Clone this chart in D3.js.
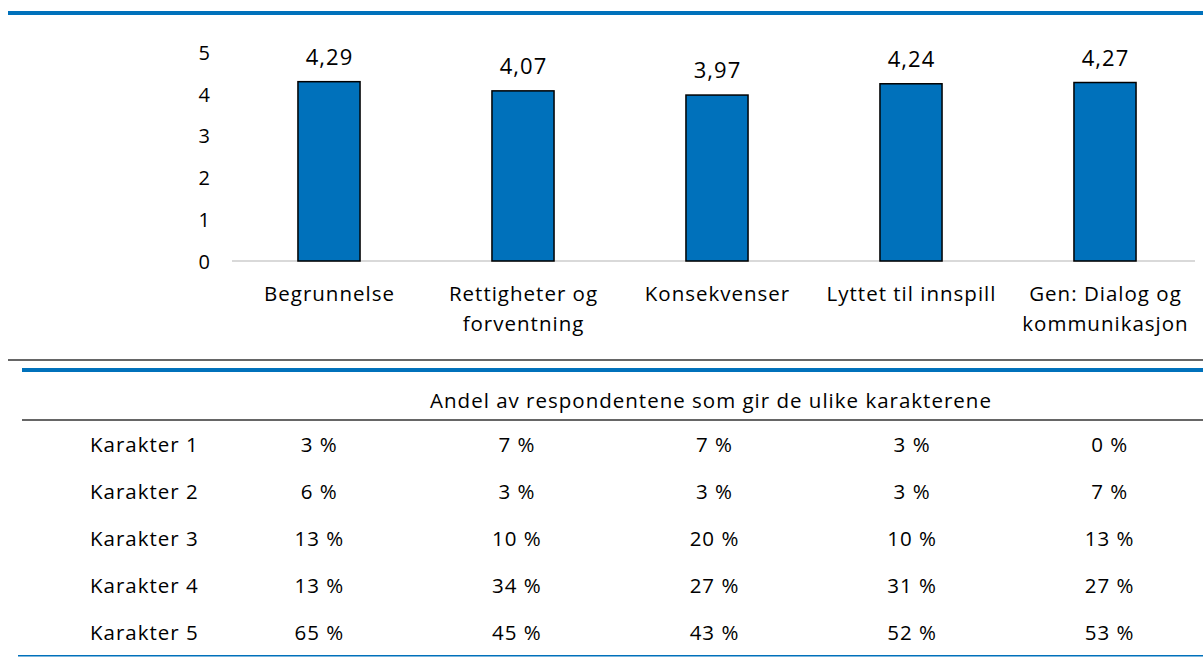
<!DOCTYPE html>
<html lang="no">
<head>
  <meta charset="UTF-8">
  <title>Karakterer</title>
  <style>
    * {
      margin: 0;
      padding: 0;
    }
    body {
      background: #fff;
    }
    text {
      font-family: "Open Sans", sans-serif;
      fill: #000;
    }
    .wide {
      letter-spacing: 1px;
    }
  </style>
</head>
<body>
  <script src="https://d3js.org/d3.v7.min.js"></script>
  <script>
    const categories = [
      ['Begrunnelse'],
      ['Rettigheter og', 'forventning'],
      ['Konsekvenser'],
      ['Lyttet til innspill'],
      ['Gen: Dialog og', 'kommunikasjon'],
    ]
    const averages = [4.29, 4.07, 3.97, 4.24, 4.27]
    const yTicks = [0, 1, 2, 3, 4, 5]

    const tableTitle = 'Andel av respondentene som gir de ulike karakterene'
    const gradeLabels = ['Karakter 1', 'Karakter 2', 'Karakter 3', 'Karakter 4', 'Karakter 5']
    const grade1 = [3, 7, 7, 3, 0]
    const grade2 = [6, 3, 3, 3, 7]
    const grade3 = [13, 10, 20, 10, 13]
    const grade4 = [13, 34, 27, 31, 27]
    const grade5 = [65, 45, 43, 52, 53]

    const width = 1203
    const height = 657
    const blue = '#0071bb'
    const fontSize = 20.5

    const no = d3.formatLocale({ decimal: ',', thousands: ' ', grouping: [3], currency: ['', ' kr'] })
    const fmt = no.format('.2f')

    const svg = d3.select('body')
      .append('svg')
      .attr('width', width)
      .attr('height', height)

    // top rule (title sits above the visible area)
    svg.append('rect')
      .attr('x', 8).attr('y', 11)
      .attr('width', width - 8).attr('height', 4)
      .attr('fill', blue)

    const keys = categories.map((c, i) => i)

    const xScale = d3.scaleBand()
      .domain(keys)
      .range([232, 1202])
      .paddingInner(0.68)
      .paddingOuter(0.34)

    const yScale = d3.scaleLinear()
      .domain([0, 5])
      .range([261, 52])

    // baseline
    svg.append('line')
      .attr('x1', 232).attr('x2', 1195)
      .attr('y1', yScale(0)).attr('y2', yScale(0))
      .attr('stroke', '#d9d9d9')
      .attr('stroke-width', 2)

    const yAxis = d3.axisLeft(yScale)
      .tickValues(yTicks)
      .tickSize(0)
      .tickPadding(0)
      .tickFormat(d3.format('d'))

    svg.append('g')
      .attr('transform', 'translate(210, 0)')
      .call(yAxis)
      .call(g => g.select('.domain').remove())
      .selectAll('text')
      .attr('font-family', '"Open Sans", sans-serif')
      .attr('font-size', 20)
      .attr('dy', '0.36em')

    svg.append('g')
      .selectAll('rect')
      .data(averages)
      .enter()
      .append('rect')
      .attr('x', (d, i) => xScale(i))
      .attr('y', d => yScale(d))
      .attr('width', xScale.bandwidth())
      .attr('height', d => yScale(0) - yScale(d))
      .attr('fill', blue)
      .attr('stroke', '#000')
      .attr('stroke-width', 1.5)

    svg.append('g')
      .selectAll('text')
      .data(averages)
      .enter()
      .append('text')
      .attr('class', 'wide')
      .attr('x', (d, i) => xScale(i) + xScale.bandwidth() / 2 + 0.5)
      .attr('y', d => yScale(d) - 17)
      .attr('text-anchor', 'middle')
      .attr('font-size', 22)
      .text(d => fmt(d))

    const catText = svg.append('g')
      .selectAll('text')
      .data(categories)
      .enter()
      .append('text')
      .attr('class', 'wide')
      .attr('text-anchor', 'middle')
      .attr('font-size', fontSize)

    catText.selectAll('tspan')
      .data((d, i) => d.map(line => ({ line, i })))
      .enter()
      .append('tspan')
      .attr('x', d => xScale(d.i) + xScale.bandwidth() / 2 + 0.5)
      .attr('y', (d, j) => 301 + j * 30)
      .text(d => d.line)

    // separators between chart and table
    svg.append('rect')
      .attr('x', 8).attr('y', 359)
      .attr('width', width - 8).attr('height', 2)
      .attr('fill', '#666')

    svg.append('rect')
      .attr('x', 22).attr('y', 368)
      .attr('width', width - 22).attr('height', 4)
      .attr('fill', blue)

    svg.append('text')
      .attr('class', 'wide')
      .attr('x', 711)
      .attr('y', 408)
      .attr('text-anchor', 'middle')
      .attr('font-size', fontSize)
      .text(tableTitle)

    svg.append('rect')
      .attr('x', 22).attr('y', 419)
      .attr('width', width - 22).attr('height', 2)
      .attr('fill', '#666')

    const rows = [grade1, grade2, grade3, grade4, grade5]

    const colScale = d3.scaleBand()
      .domain(keys)
      .range([220, 1208])

    const rowScale = d3.scaleBand()
      .domain(gradeLabels)
      .range([422, 656])

    const rowG = svg.append('g')
      .selectAll('g')
      .data(rows)
      .enter()
      .append('g')
      .attr('transform', (d, i) => `translate(0, ${rowScale(gradeLabels[i]) + rowScale.bandwidth() / 2 + 7})`)

    rowG.append('text')
      .attr('class', 'wide')
      .attr('x', 90)
      .attr('font-size', fontSize)
      .text((d, i) => gradeLabels[i])

    rowG.selectAll('text.val')
      .data(d => d)
      .enter()
      .append('text')
      .attr('class', 'val wide')
      .attr('x', (d, i) => colScale(i) + colScale.bandwidth() / 2 + 0.5)
      .attr('text-anchor', 'middle')
      .attr('font-size', fontSize)
      .text(d => d + ' %')

    svg.append('rect')
      .attr('x', 18).attr('y', 655)
      .attr('width', width - 18).attr('height', 1.5)
      .attr('fill', blue)
  </script>
</body>
</html>
